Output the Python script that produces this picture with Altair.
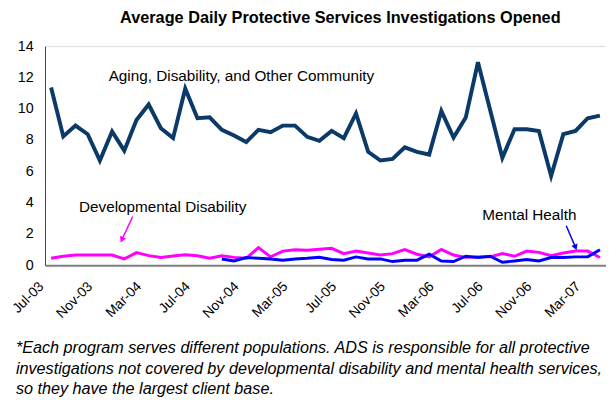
import altair as alt
import pandas as pd

months = ["Jul-03", "Aug-03", "Sep-03", "Oct-03", "Nov-03", "Dec-03", "Jan-04", "Feb-04",
          "Mar-04", "Apr-04", "May-04", "Jun-04", "Jul-04", "Aug-04", "Sep-04", "Oct-04",
          "Nov-04", "Dec-04", "Jan-05", "Feb-05", "Mar-05", "Apr-05", "May-05", "Jun-05",
          "Jul-05", "Aug-05", "Sep-05", "Oct-05", "Nov-05", "Dec-05", "Jan-06", "Feb-06",
          "Mar-06", "Apr-06", "May-06", "Jun-06", "Jul-06", "Aug-06", "Sep-06", "Oct-06",
          "Nov-06", "Dec-06", "Jan-07", "Feb-07", "Mar-07", "Apr-07"]

ads = [11.35, 8.23, 8.92, 8.37, 6.69, 8.54, 7.32, 9.28, 10.27, 8.75,
       8.12, 11.28, 9.39, 9.45, 8.65, 8.29, 7.87, 8.65, 8.50, 8.92,
       8.92, 8.20, 7.95, 8.58, 8.12, 9.70, 7.24, 6.69, 6.79, 7.53,
       7.24, 7.07, 9.85, 8.16, 9.43, 12.97, 9.92, 6.86, 8.69, 8.69,
       8.58, 5.70, 8.37, 8.58, 9.39, 9.56]

dd = [0.44, 0.57, 0.65, 0.65, 0.65, 0.65, 0.40, 0.80, 0.61, 0.49,
      0.59, 0.67, 0.60, 0.44, 0.60, 0.50, 0.44, 1.12, 0.53, 0.90,
      0.99, 0.95, 1.02, 1.08, 0.74, 0.90, 0.78, 0.65, 0.74, 1.00,
      0.70, 0.53, 1.00, 0.65, 0.50, 0.53, 0.53, 0.74, 0.57, 0.90,
      0.82, 0.60, 0.78, 0.90, 0.90, 0.49]

mh = [None, None, None, None, None, None, None, None, None, None,
      None, None, None, None, 0.40, 0.27, 0.49, 0.44, 0.40, 0.32,
      0.40, 0.44, 0.50, 0.36, 0.32, 0.53, 0.40, 0.40, 0.23, 0.32,
      0.32, 0.70, 0.27, 0.23, 0.57, 0.49, 0.57, 0.19, 0.27, 0.36,
      0.27, 0.49, 0.49, 0.53, 0.53, 0.99]

series_names = ["Aging, Disability, and Other Community", "Developmental Disability", "Mental Health"]
series_colors = ["#0b3a68", "#ff00ff", "#0000ff"]
series_widths = [4, 3, 3]

tick_values = [0, 4, 8, 12, 16, 20, 24, 28, 32, 36, 40, 44]
y_ticks = [0, 2, 4, 6, 8, 10, 12, 14]

# annotation labels (data coordinates: month index, value)
label_text = ["Aging, Disability, and Other Community", "Developmental Disability", "Mental Health"]
label_x = [4.72, 2.29, 35.35]
label_y = [11.77, 3.41, 2.90]

# arrows: start -> tip
arrow_x = [6.69, 42.24]
arrow_y = [3.11, 2.52]
arrow_x2 = [5.80, 43.00]
arrow_y2 = [1.62, 1.14]
arrow_angle = [204, 157]
arrow_colors = ["#ff00ff", "#0000ff"]

footnote = ["*Each program serves different populations. ADS is responsible for all protective",
            "investigations not covered by developmental disability and mental health services,",
            "so they have the largest client base."]

title_text = "Average Daily Protective Services Investigations Opened"

FONT = "Liberation Sans, Arial, sans-serif"

rows = []
for name, vals in zip(series_names, [ads, dd, mh]):
    for i, v in enumerate(vals):
        if v is not None:
            rows.append({"idx": i, "value": v, "series": name})
df = pd.DataFrame(rows)

label_expr = "[" + ",".join("'%s'" % m for m in months) + "][datum.value]"

x_scale = alt.Scale(domain=[-0.5, 45.5], nice=False, zero=False)
y_scale = alt.Scale(domain=[0, 14], nice=False)

x_axis = alt.Axis(values=tick_values, labelExpr=label_expr, title=None,
                  grid=False, ticks=False, labelAngle=-45, labelAlign="right",
                  labelBaseline="middle", labelPadding=19, labelOffset=-10,
                  labelFont=FONT, labelFontSize=14, labelColor="#000000",
                  domainColor="#808080", domainWidth=2, labelOverlap=False)
y_axis = alt.Axis(values=y_ticks, title=None, grid=False, ticks=False,
                  labelPadding=12, labelFont=FONT, labelFontSize=14.5,
                  labelColor="#000000", domainColor="#404040", domainWidth=1,
                  labelOverlap=False, labelBound=False, labelFlush=False)


def X(field):
    return alt.X(field, scale=x_scale, axis=x_axis)


def Y(field):
    return alt.Y(field, scale=y_scale, axis=y_axis)


layers = []
for name, col, w in zip(series_names, series_colors, series_widths):
    layers.append(
        alt.Chart(df).transform_filter(alt.datum.series == name)
        .mark_line(color=col, strokeWidth=w, strokeJoin="miter", strokeCap="butt")
        .encode(x=X("idx:Q"), y=Y("value:Q"))
    )

lab_df = pd.DataFrame({"t": label_text, "x": label_x, "y": label_y})
labels = alt.Chart(lab_df).mark_text(align="left", baseline="alphabetic", font=FONT,
                                     fontSize=15.5, color="#000000").encode(
    x=X("x:Q"), y=Y("y:Q"), text="t:N")

arr_df = pd.DataFrame({"x": arrow_x, "y": arrow_y, "x2": arrow_x2, "y2": arrow_y2,
                       "a": arrow_angle, "c": arrow_colors})
arrow_lines = alt.Chart(arr_df).mark_rule(strokeWidth=1.5).encode(
    x=X("x:Q"), y=Y("y:Q"), x2="x2:Q", y2="y2:Q",
    color=alt.Color("c:N", scale=None))
arrow_heads = alt.Chart(arr_df).mark_point(shape="triangle-up", filled=True, size=45, opacity=1).encode(
    x=X("x2:Q"), y=Y("y2:Q"),
    angle=alt.Angle("a:Q", scale=None),
    color=alt.Color("c:N", scale=None))

foot = alt.Chart(pd.DataFrame({"k": [0]})).mark_text(
    text=footnote, align="left", baseline="alphabetic", font=FONT, fontSize=16.4,
    fontStyle="italic", lineHeight=21, color="#000000").encode(
    x=alt.value(-29.5), y=alt.value(311))

chart = alt.layer(*layers, labels, arrow_lines, arrow_heads, foot).properties(
    width=568.5, height=222,
    title=alt.Title(title_text, font=FONT, fontSize=16.5, fontWeight="bold",
                    color="#000000", anchor="middle", dx=15, offset=12),
    autosize="none",
    padding={"left": 37.5, "top": 36, "right": 0, "bottom": 134},
).configure_view(stroke=None).configure(background="white")

chart.save("out.html", embed_options={"renderer": "svg", "actions": False})
